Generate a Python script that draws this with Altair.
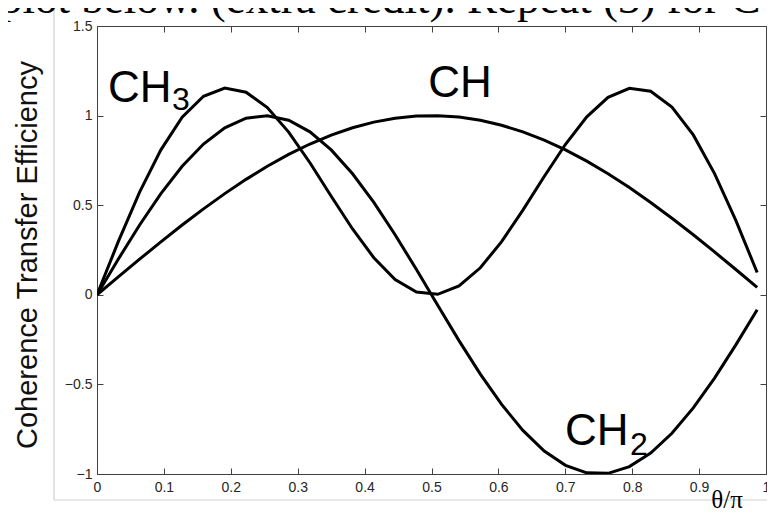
import altair as alt
import pandas as pd

# theta / pi sample positions
x_vals = [0.0000, 0.0318, 0.0637, 0.0955, 0.1273, 0.1592, 0.1910, 0.2228, 0.2546, 0.2865,
          0.3183, 0.3501, 0.3820, 0.4138, 0.4456, 0.4775, 0.5093, 0.5411, 0.5730, 0.6048,
          0.6366, 0.6685, 0.7003, 0.7321, 0.7639, 0.7958, 0.8276, 0.8594, 0.8913, 0.9231,
          0.9549, 0.9868]

ch_vals = [0, 0.0998, 0.1987, 0.2955, 0.3894, 0.4794, 0.5646, 0.6442, 0.7174, 0.7833,
           0.8415, 0.8912, 0.9320, 0.9636, 0.9854, 0.9975, 0.9996, 0.9917, 0.9738, 0.9463,
           0.9093, 0.8632, 0.8085, 0.7457, 0.6755, 0.5985, 0.5155, 0.4274, 0.3350, 0.2392,
           0.1411, 0.0416]

ch2_vals = [0, 0.1987, 0.3894, 0.5646, 0.7174, 0.8415, 0.9320, 0.9854, 0.9996, 0.9738,
            0.9093, 0.8085, 0.6755, 0.5155, 0.3350, 0.1411, -0.0584, -0.2555, -0.4425, -0.6119,
            -0.7568, -0.8716, -0.9516, -0.9937, -0.9962, -0.9589, -0.8835, -0.7728, -0.6313, -0.4646,
            -0.2794, -0.0831]

ch3_vals = [0, 0.2964, 0.5726, 0.8090, 0.9911, 1.1077, 1.1537, 1.1304, 1.0447, 0.9080,
            0.7369, 0.5502, 0.3671, 0.2069, 0.0854, 0.0150, 0.0026, 0.0494, 0.1508, 0.2967,
            0.4723, 0.6599, 0.8400, 0.9932, 1.1019, 1.1523, 1.1356, 1.0481, 0.8922, 0.6766,
            0.4149, 0.1246]

x_ticks = [0, 0.1, 0.2, 0.3, 0.4, 0.5, 0.6, 0.7, 0.8, 0.9, 1]
y_ticks = [-1, -0.5, 0, 0.5, 1, 1.5]

label_main = ["CH", "CH", "CH"]
label_sub = ["3", "", "2"]
label_x = [0.0164, 0.495, 0.6996]
label_y = [1.076, 1.104, -0.838]
sub_x = [0.112, 0.60, 0.7967]
sub_y = [1.031, 1.0, -0.894]

rows = []
for name, vals in [("CH", ch_vals), ("CH2", ch2_vals), ("CH3", ch3_vals)]:
    for xv, yv in zip(x_vals, vals):
        rows.append({"x": xv, "y": yv, "series": name})
df = pd.DataFrame(rows)

lab_df = pd.DataFrame({"x": label_x, "y": label_y, "t": label_main})
sub_df = pd.DataFrame({"x": sub_x, "y": sub_y, "t": label_sub})

W, H = 669, 448
xs = alt.Scale(domain=[0, 1], nice=False, zero=False)
ys = alt.Scale(domain=[-1, 1.5], nice=False, zero=False)

axis_common = dict(
    domain=False, tickSize=6, offset=-6, tickColor="#404040", tickWidth=1,
    labelFont="Liberation Sans", labelFontSize=14, labelColor="#262626",
    labelFlush=False, labelOverlap=False, grid=False, title=None,
)

lines = alt.Chart(df).mark_line(color="black", strokeWidth=3, clip=True).encode(
    x=alt.X("x:Q", scale=xs, axis=alt.Axis(orient="bottom", values=x_ticks, labelPadding=6,
                                          format="~g", **axis_common)),
    y=alt.Y("y:Q", scale=ys, axis=alt.Axis(orient="left", values=y_ticks, labelPadding=5,
                                          format="~g", **axis_common)),
    detail="series:N",
)

mirror = alt.Chart(df).mark_line(opacity=0).encode(
    x=alt.X("x:Q", scale=xs, axis=alt.Axis(orient="top", values=x_ticks, labels=False, **axis_common)),
    y=alt.Y("y:Q", scale=ys, axis=alt.Axis(orient="right", values=y_ticks, labels=False, **axis_common)),
    detail="series:N",
)

main_txt = alt.Chart(lab_df).mark_text(
    font="Liberation Sans", fontSize=44, align="left", baseline="alphabetic", color="black"
).encode(x=alt.X("x:Q", scale=xs, axis=None), y=alt.Y("y:Q", scale=ys, axis=None), text="t:N")

sub_txt = alt.Chart(sub_df).mark_text(
    font="Liberation Sans", fontSize=32, align="left", baseline="alphabetic", color="black"
).encode(x=alt.X("x:Q", scale=xs, axis=None), y=alt.Y("y:Q", scale=ys, axis=None), text="t:N")

ytitle = alt.Chart(pd.DataFrame({"t": ["Coherence Transfer Efficiency"]})).mark_text(
    font="Liberation Sans", fontSize=29, angle=270, align="center", baseline="middle", color="#111"
).encode(x=alt.value(-69), y=alt.value(229), text="t:N")

gray_v = alt.Chart(pd.DataFrame({"a": [0]})).mark_rule(color="#c8c8c8", strokeWidth=1).encode(
    x=alt.value(-43), y=alt.value(-18), y2=alt.value(474))
gray_h = alt.Chart(pd.DataFrame({"a": [0]})).mark_rule(color="#d0d0d0", strokeWidth=1).encode(
    x=alt.value(-43), x2=alt.value(680), y=alt.value(474))

xtitle = alt.Chart(pd.DataFrame({"t": ["θ/π"]})).mark_text(
    font="Liberation Serif", fontSize=25, align="center", baseline="alphabetic", color="black"
).encode(x=alt.value(630), y=alt.value(482), text="t:N")

header = alt.Chart(pd.DataFrame({"t": ["plot below.  (extra credit).  Repeat (3) for C"]})).mark_text(
    font="Liberation Serif", fontSize=45, align="left", baseline="alphabetic", color="black"
).encode(x=alt.value(-97), y=alt.value(-13), text="t:N")

chart = alt.layer(gray_v, gray_h, lines, mirror, main_txt, sub_txt, ytitle, xtitle, header).resolve_axis(
    x="independent", y="independent"
).properties(
    width=W, height=H,
    padding={"left": 89, "top": 18, "right": 1, "bottom": 36},
    autosize=alt.AutoSizeParams(type="none"),
    background="white",
).configure_view(stroke="#404040", strokeWidth=1)

chart.save("out.html", embed_options={"renderer": "svg", "actions": False})
